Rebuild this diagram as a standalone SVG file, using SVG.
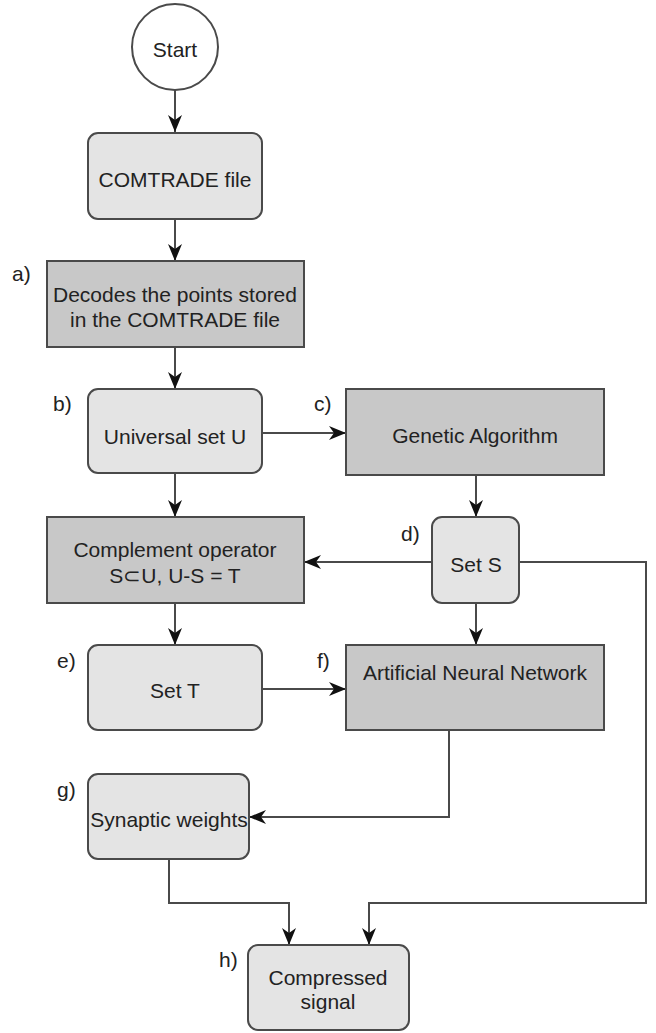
<svg xmlns="http://www.w3.org/2000/svg" width="656" height="1033" viewBox="0 0 656 1033">
  <defs>
    <style>
      .light { fill: #e4e4e4; stroke: #4a4a4a; stroke-width: 2; }
      .dark { fill: #c8c8c8; stroke: #4a4a4a; stroke-width: 2; }
      .txt { font-family: "Liberation Sans", Arial, sans-serif; font-size: 21px; fill: #222; text-anchor: middle; }
      .lbl { font-family: "Liberation Sans", Arial, sans-serif; font-size: 21px; fill: #222; }
      .edge { fill: none; stroke: #4a4a4a; stroke-width: 2; marker-end: url(#arrow); }
    </style>
    <marker id="arrow" markerUnits="userSpaceOnUse" markerWidth="18" markerHeight="14" refX="17" refY="7" orient="auto">
      <path d="M0,0 L17,7 L0,14 L5,7 z" fill="#111"/>
    </marker>
  </defs>
  <rect width="656" height="1033" fill="#fff"/>

  <!-- connectors -->
  <g id="connectors">
    <path class="edge" d="M175,90 V132"/>
    <path class="edge" d="M175,219 V261"/>
    <path class="edge" d="M175,347 V389"/>
    <path class="edge" d="M262,433 H346"/>
    <path class="edge" d="M476,475 V517"/>
    <path class="edge" d="M175,473 V517"/>
    <path class="edge" d="M432,562 H304"/>
    <path class="edge" d="M175,603 V645"/>
    <path class="edge" d="M476,603 V645"/>
    <path class="edge" d="M262,689 H346"/>
    <path class="edge" d="M449,730 V817 H249"/>
    <path class="edge" d="M169,859 V903 H289 V945"/>
    <path class="edge" d="M519,562 H646 V903 H369 V945"/>
  </g>

  <!-- nodes -->
  <g id="start">
    <circle cx="175" cy="47" r="43" fill="#fff" stroke="#4a4a4a" stroke-width="2"/>
    <text class="txt" x="175" y="57">Start</text>
  </g>
  <g id="comtrade">
    <rect class="light" x="88" y="133" width="174" height="86" rx="10"/>
    <text class="txt" x="175" y="187">COMTRADE file</text>
  </g>
  <g id="decode">
    <text class="lbl" x="12" y="281">a)</text>
    <rect class="dark" x="47" y="261" width="257" height="86"/>
    <text class="txt" x="175" y="302">Decodes the points stored</text>
    <text class="txt" x="175" y="327">in the COMTRADE file</text>
  </g>
  <g id="universal">
    <text class="lbl" x="53" y="411">b)</text>
    <rect class="light" x="88" y="389" width="174" height="84" rx="10"/>
    <text class="txt" x="175" y="444">Universal set U</text>
  </g>
  <g id="genetic">
    <text class="lbl" x="314" y="411">c)</text>
    <rect class="dark" x="346" y="389" width="258" height="86"/>
    <text class="txt" x="475" y="443">Genetic Algorithm</text>
  </g>
  <g id="setS">
    <text class="lbl" x="401" y="541">d)</text>
    <rect class="light" x="432" y="517" width="87" height="86" rx="10"/>
    <text class="txt" x="476" y="572">Set S</text>
  </g>
  <g id="complement">
    <rect class="dark" x="47" y="517" width="257" height="86"/>
    <text class="txt" x="175" y="557">Complement operator</text>
    <text class="txt" x="175" y="583">S⊂U, U-S = T</text>
  </g>
  <g id="setT">
    <text class="lbl" x="57" y="668">e)</text>
    <rect class="light" x="88" y="645" width="174" height="85" rx="10"/>
    <text class="txt" x="175" y="698">Set T</text>
  </g>
  <g id="ann">
    <text class="lbl" x="317" y="668">f)</text>
    <rect class="dark" x="346" y="645" width="258" height="85"/>
    <text class="txt" x="475" y="680">Artificial Neural Network</text>
  </g>
  <g id="synaptic">
    <text class="lbl" x="57" y="797">g)</text>
    <rect class="light" x="88" y="774" width="161" height="85" rx="10"/>
    <text class="txt" x="169" y="827">Synaptic weights</text>
  </g>
  <g id="compressed">
    <text class="lbl" x="219" y="967">h)</text>
    <rect class="light" x="248" y="945" width="161" height="85" rx="10"/>
    <text class="txt" x="328" y="985">Compressed</text>
    <text class="txt" x="328" y="1009">signal</text>
  </g>
</svg>
